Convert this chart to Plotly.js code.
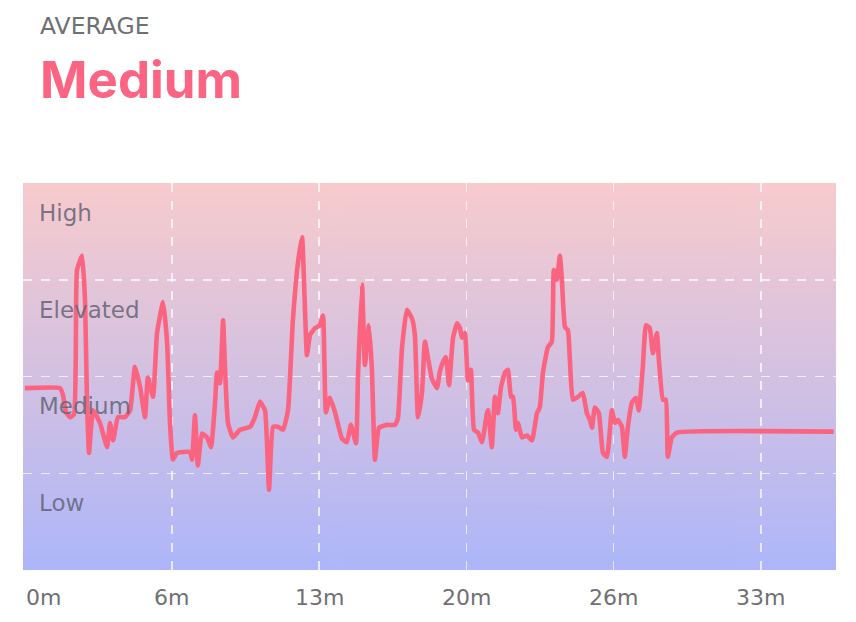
<!DOCTYPE html>
<html>
<head>
<meta charset="utf-8">
<script src="https://cdn.plot.ly/plotly-3.0.1.min.js"></script>
<style>
  html, body { margin: 0; padding: 0; background: #ffffff; }
  #chart { width: 856px; height: 622px; }
</style>
</head>
<body>
<div id="chart"></div>
<script>
// Time in minutes
const minutes = [0, 1.58, 1.71, 1.85, 2.03, 2.21, 2.34, 2.57, 2.70, 2.79, 2.88, 3.06, 3.37, 3.69, 3.82, 3.96, 4.18, 4.49, 4.72, 4.94,
  5.17, 5.39, 5.52, 5.75, 5.93, 6.20, 6.38, 6.51, 6.64, 6.82, 7.41, 7.50, 7.63, 7.76, 7.94, 8.17, 8.35, 8.53, 8.62, 8.75,
  8.89, 8.98, 9.11, 9.33, 9.65, 10.10, 10.32, 10.54, 10.77, 10.95, 11.13, 11.35, 11.58, 11.80, 12.02, 12.25, 12.43, 12.65, 12.79, 13.01,
  13.23, 13.37, 13.50, 13.68, 13.91, 14.22, 14.44, 14.62, 14.85, 14.94, 15.12, 15.25, 15.43, 15.56, 15.70, 15.88, 16.24, 16.60, 16.73, 16.91,
  17.13, 17.36, 17.49, 17.63, 17.81, 17.94, 18.08, 18.25, 18.48, 18.61, 18.75, 18.88, 19.02, 19.20, 19.38, 19.51, 19.60, 19.73, 19.87, 20.00,
  20.14, 20.32, 20.50, 20.72, 20.77, 20.94, 21.08, 21.21, 21.35, 21.53, 21.66, 21.80, 21.89, 22.02, 22.11, 22.29, 22.51, 22.74, 22.96, 23.09,
  23.23, 23.45, 23.63, 23.72, 23.86, 23.99, 24.08, 24.22, 24.35, 24.44, 24.57, 24.80, 25.02, 25.20, 25.34, 25.43, 25.56, 25.74, 25.92, 26.10,
  26.32, 26.46, 26.59, 26.77, 26.90, 27.04, 27.22, 27.40, 27.53, 27.71, 27.85, 28.02, 28.16, 28.34, 28.43, 28.61, 28.74, 28.83, 29.01, 29.24,
  36.27];
// Stress level (0 = bottom, 1 = Low/Medium boundary, 2 = Medium/Elevated, 3 = Elevated/High, 4 = top)
const stress = [1.88, 1.88, 1.81, 1.63, 1.58, 1.61, 3.10, 3.25, 2.79, 1.73, 1.21, 1.65, 1.52, 1.27, 1.52, 1.34, 1.58, 1.58, 1.65, 2.10,
  1.89, 1.58, 1.99, 1.79, 2.45, 2.77, 2.35, 1.52, 1.14, 1.21, 1.22, 1.14, 1.60, 1.08, 1.41, 1.37, 1.27, 1.73, 2.04, 1.93,
  2.58, 2.07, 1.52, 1.37, 1.45, 1.48, 1.58, 1.74, 1.65, 0.83, 1.48, 1.48, 1.45, 1.65, 2.58, 3.18, 3.44, 2.22, 2.43, 2.50,
  2.53, 2.63, 1.63, 1.78, 1.63, 1.36, 1.32, 1.50, 1.31, 2.01, 2.95, 2.12, 2.53, 2.09, 1.14, 1.47, 1.50, 1.50, 1.57, 2.29,
  2.69, 2.60, 2.43, 1.58, 1.84, 2.36, 2.19, 1.98, 1.88, 2.05, 2.15, 2.20, 1.91, 2.40, 2.55, 2.50, 2.40, 2.45, 1.96, 2.07,
  1.45, 1.42, 1.32, 1.62, 1.65, 1.27, 1.79, 1.62, 1.89, 2.04, 2.07, 1.79, 1.79, 1.45, 1.52, 1.37, 1.39, 1.34, 1.62, 1.68,
  2.04, 2.30, 2.36, 3.10, 3.00, 3.25, 3.00, 2.51, 2.48, 2.17, 1.76, 1.79, 1.83, 1.62, 1.55, 1.47, 1.68, 1.62, 1.21, 1.17,
  1.65, 1.52, 1.55, 1.48, 1.17, 1.48, 1.73, 1.78, 1.65, 2.10, 2.53, 2.50, 2.24, 2.45, 2.17, 1.76, 1.76, 1.17, 1.37, 1.42,
  1.43];
const levelLabels = ["Low", "Medium", "Elevated", "High"];
const tickMinutes = [0, 6.6, 13.2, 19.8, 26.4, 33];
const tickLabels = ["0m", "6m", "13m", "20m", "26m", "33m"];
const headerSmall = "AVERAGE";
const headerBig = "Medium";

const X_MIN = -0.08, X_MAX = 36.37, Y_MIN = 0, Y_MAX = 4;
const FONT = "'DejaVu Sans', sans-serif";
const FONT_BOLD = "Inter, 'Noto Sans', sans-serif";

// vertical gradient background image for the plot area
function gradientURL() {
  const c = document.createElement('canvas');
  c.width = 4; c.height = 400;
  const g = c.getContext('2d');
  const grd = g.createLinearGradient(0, 0, 0, 400);
  grd.addColorStop(0, '#f8cbcd');
  grd.addColorStop(0.5, '#d3c1e2');
  grd.addColorStop(1, '#adb6fa');
  g.fillStyle = grd;
  g.fillRect(0, 0, 4, 400);
  return c.toDataURL('image/png');
}

const lineTrace = {
  x: minutes, y: stress, mode: 'lines',
  line: { color: '#fa6480', width: 4.6, shape: 'spline', smoothing: 0.4 },
  showlegend: false, hoverinfo: 'skip'
};

const annotations = [];
levelLabels.forEach((t, i) => {
  annotations.push({ text: t, x: 0.55, y: i + 0.69, xref: 'x', yref: 'y', xanchor: 'left', yanchor: 'middle',
    showarrow: false, font: { family: FONT, size: 23, color: 'rgba(100,100,120,0.85)' } });
});
tickMinutes.forEach((m, i) => {
  annotations.push({ text: tickLabels[i], x: i === 0 ? X_MIN + 0.05 : m, y: -0.072, xref: 'x', yref: 'paper',
    xanchor: i === 0 ? 'left' : 'center', yanchor: 'middle', showarrow: false,
    font: { family: FONT, size: 22, color: '#707074' } });
});
annotations.push({ text: headerSmall, x: 0.018, y: (570 - 26) / 387, xref: 'paper', yref: 'paper',
  xanchor: 'left', yanchor: 'middle', showarrow: false, font: { family: FONT, size: 23.5, color: '#707074' } });
annotations.push({ text: '<b>' + headerBig + '</b>', x: 0.019, y: (570 - 80) / 387, xref: 'paper', yref: 'paper',
  xanchor: 'left', yanchor: 'middle', showarrow: false, font: { family: FONT_BOLD, size: 51, color: '#fb6482' } });

const layout = {
  width: 856, height: 622,
  margin: { l: 23, r: 20, t: 183, b: 52, pad: 0 },
  paper_bgcolor: '#ffffff', plot_bgcolor: 'rgba(0,0,0,0)',
  images: [{ source: gradientURL(), xref: 'paper', yref: 'paper', x: 0, y: 1, sizex: 1, sizey: 1,
    sizing: 'stretch', xanchor: 'left', yanchor: 'top', layer: 'below' }],
  xaxis: { range: [X_MIN, X_MAX], tickvals: tickMinutes.slice(1), showticklabels: false,
    showgrid: true, gridcolor: 'rgba(255,255,255,0.7)', griddash: 'dash', gridwidth: 1.5,
    zeroline: false, showline: false, fixedrange: true },
  yaxis: { range: [Y_MIN, Y_MAX], tickvals: [1, 2, 3], showticklabels: false,
    showgrid: true, gridcolor: 'rgba(255,255,255,0.7)', griddash: 'dash', gridwidth: 1.5,
    zeroline: false, showline: false, fixedrange: true },
  annotations: annotations,
  showlegend: false
};

Plotly.newPlot('chart', [lineTrace], layout, { staticPlot: true, displayModeBar: false });
</script>
</body>
</html>
